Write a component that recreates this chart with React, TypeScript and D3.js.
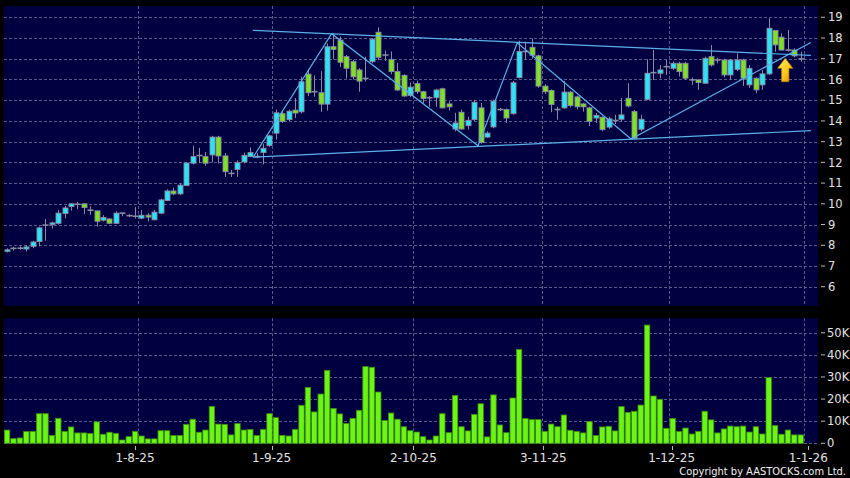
import React from "react";
import * as d3 from "d3";

// ---------- DATA ----------
const opens = [
  7.72, 7.85, 7.86, 7.82, 7.95, 8.18, 8.97, 9.0, 9.06, 9.53,
  9.87, 9.98, 10.0, 9.69, 9.66, 9.21, 9.27, 9.06, 9.55, 9.43,
  9.4, 9.31, 9.45, 9.23, 9.55, 10.16, 10.62, 10.48, 10.88, 11.96,
  12.33, 12.28, 12.36, 13.22, 12.31, 11.47, 11.66, 12.02, 12.28, 12.28,
  12.47, 12.81, 13.41, 14.35, 14.06, 14.52, 14.44, 16.26, 15.41, 15.36,
  14.81, 17.58, 17.9, 17.1, 16.86, 16.46, 16.05, 16.86, 18.28, 17.18,
  16.97, 16.38, 16.2, 15.23, 15.8, 15.41, 15.12, 15.12, 15.55, 14.82,
  13.61, 14.42, 13.77, 14.06, 14.63, 13.22, 13.71, 14.55, 14.55, 14.35,
  16.09, 17.35, 17.55, 17.14, 15.68, 15.47, 14.55, 14.63, 15.39, 15.16,
  14.82, 14.63, 14.14, 14.18, 13.7, 14.02, 14.08, 15.09, 14.45, 13.6,
  15.04, 16.33, 16.3, 16.62, 16.54, 16.78, 16.78, 15.98, 15.98, 15.82,
  17.1, 16.94, 16.94, 16.22, 16.49, 16.94, 15.74, 16.06, 15.74, 16.27,
  18.36, 18.04, 17.42, 17.42, 16.99,
];
const highs = [
  7.85, 7.93, 7.95, 8.0, 8.22, 8.9, 9.27, 9.14, 9.7, 9.9,
  10.03, 10.1, 10.0, 9.88, 9.66, 9.45, 9.3, 9.64, 9.58, 9.5,
  9.84, 9.7, 9.55, 9.7, 10.25, 10.7, 10.78, 11.0, 12.0, 12.8,
  12.7, 12.5, 13.28, 13.28, 12.45, 11.63, 12.1, 12.47, 12.72, 12.45,
  12.9, 13.33, 14.55, 14.5, 14.55, 15.1, 16.13, 16.5, 16.2, 16.4,
  17.74, 18.23, 18.07, 17.18, 16.95, 16.55, 17.1, 18.0, 18.52, 17.4,
  17.35, 16.8, 16.25, 15.85, 15.95, 15.45, 15.2, 15.55, 15.6, 14.95,
  14.39, 14.55, 14.2, 15.02, 14.87, 13.5, 15.03, 14.63, 14.6, 15.93,
  17.87, 17.82, 17.98, 17.2, 15.77, 15.52, 14.68, 15.93, 15.45, 15.22,
  14.87, 14.68, 14.38, 14.22, 14.2, 14.3, 15.1, 15.82, 14.53, 14.3,
  16.97, 17.42, 16.7, 16.94, 16.86, 16.86, 16.86, 16.1, 16.0, 17.1,
  17.66, 17.05, 17.0, 17.0, 17.26, 17.0, 16.7, 16.1, 16.45, 18.95,
  18.36, 18.23, 18.39, 17.5, 17.34,
];
const lows = [
  7.65, 7.75, 7.78, 7.7, 7.86, 7.95, 8.23, 8.8, 9.0, 9.3,
  9.67, 9.74, 9.5, 9.47, 8.9, 9.15, 9.03, 9.03, 9.4, 9.35,
  9.29, 9.26, 9.15, 9.2, 9.5, 10.13, 10.43, 10.43, 10.88, 11.9,
  11.96, 11.83, 12.0, 11.95, 11.3, 11.3, 11.3, 11.95, 12.25, 12.2,
  11.9, 12.75, 13.1, 13.9, 14.0, 14.14, 14.36, 15.2, 15.17, 14.44,
  14.5, 16.97, 16.6, 16.05, 16.0, 15.41, 15.9, 16.78, 16.94, 16.9,
  16.25, 15.45, 15.17, 15.15, 15.3, 14.85, 14.68, 14.68, 14.6, 14.5,
  13.5, 13.58, 13.58, 14.0, 12.9, 13.18, 13.65, 14.47, 13.9, 14.3,
  16.05, 16.95, 17.0, 15.6, 15.3, 14.42, 14.06, 14.58, 14.65, 14.55,
  14.45, 13.75, 13.9, 13.5, 13.62, 13.85, 13.97, 14.65, 13.13, 13.5,
  15.0, 15.98, 16.06, 16.22, 16.46, 16.14, 15.98, 15.74, 15.5, 15.8,
  16.62, 16.78, 16.1, 16.0, 16.4, 15.69, 15.6, 15.33, 15.5, 16.22,
  17.34, 17.39, 17.34, 17.07, 16.86,
];
const closes = [
  7.78, 7.85, 7.86, 7.92, 8.16, 8.84, 8.97, 9.08, 9.55, 9.8,
  10.0, 9.98, 9.82, 9.69, 9.16, 9.34, 9.06, 9.55, 9.55, 9.43,
  9.4, 9.45, 9.36, 9.6, 10.19, 10.62, 10.48, 10.9, 11.97, 12.28,
  12.33, 11.96, 13.22, 12.31, 11.55, 11.47, 11.98, 12.34, 12.47, 12.28,
  12.68, 13.28, 14.39, 13.98, 14.47, 14.38, 15.89, 15.36, 15.41, 14.81,
  17.58, 17.45, 16.83, 16.54, 16.13, 15.92, 16.05, 17.94, 17.07, 17.18,
  16.38, 15.49, 15.2, 15.63, 15.41, 15.08, 15.12, 15.49, 14.63, 14.68,
  13.9, 13.61, 14.03, 14.9, 12.96, 13.41, 14.95, 14.55, 14.14, 15.84,
  17.35, 17.35, 17.17, 15.68, 15.41, 14.79, 14.55, 15.39, 14.74, 14.68,
  14.68, 13.98, 14.27, 13.58, 14.1, 14.02, 14.29, 14.72, 13.16, 14.08,
  16.3, 16.33, 16.46, 16.62, 16.78, 16.38, 16.06, 15.98, 15.85, 17.02,
  16.7, 16.94, 16.22, 16.94, 16.94, 16.06, 16.54, 15.5, 16.27, 18.47,
  17.67, 17.42, 17.42, 17.14, 16.99,
];
// volume in thousands of shares
const volumesK = [
  6.0, 2.1, 2.4, 5.3, 5.4, 13.4, 13.4, 3.6, 11.3, 5.4,
  7.4, 4.7, 4.7, 4.4, 9.7, 4.1, 5.0, 4.5, 1.5, 3.0,
  5.4, 3.3, 2.0, 2.0, 5.7, 5.7, 3.5, 3.5, 8.6, 10.9,
  5.0, 6.0, 16.7, 8.7, 8.6, 3.8, 8.9, 6.0, 6.3, 3.5,
  6.3, 13.4, 11.6, 3.6, 3.3, 6.3, 17.2, 25.3, 14.2, 22.3,
  33.0, 15.8, 13.3, 9.0, 11.3, 14.9, 34.7, 34.4, 23.2, 10.3,
  13.7, 10.9, 7.5, 5.7, 5.1, 3.0, 1.5, 3.3, 13.4, 4.8,
  21.6, 7.5, 5.6, 13.0, 17.9, 2.9, 21.9, 8.3, 4.8, 20.5,
  42.5, 11.2, 10.7, 10.7, 5.4, 8.7, 7.5, 12.8, 5.9, 5.4,
  4.7, 9.8, 3.5, 7.4, 7.7, 5.6, 16.6, 14.0, 14.5, 17.3,
  53.5, 21.4, 19.9, 6.8, 11.2, 5.3, 6.9, 4.2, 5.4, 14.5,
  10.6, 4.7, 6.5, 7.8, 7.5, 7.8, 5.1, 7.5, 4.2, 29.7,
  8.0, 4.1, 6.0, 3.8, 3.8,
];

const xTickLabels = ["1-8-25", "1-9-25", "2-10-25", "3-11-25", "1-12-25", "1-1-26"];
const xTickIdx = [20, 41.35, 63.5, 83.8, 103.85, 125.2];
const xGridIdx = [20.5, 41.35, 63.5, 83.55, 103.5, 124.6];
const priceTicks = [6, 7, 8, 9, 10, 11, 12, 13, 14, 15, 16, 17, 18, 19];
const volTicksK = [0, 10, 20, 30, 40, 50];

// drawn trend lines (candle index, price)
const zigzagIdx = [38.48, 50.73, 73.6, 79.73, 97.5, 125.6];
const zigzagPrice = [12.26, 18.21, 12.8, 17.77, 13.13, 17.78];
const resistanceIdx = [38.4, 125.6];
const resistancePrice = [18.37, 17.16];
const supportIdx = [38.4, 125.6];
const supportPrice = [12.25, 13.53];
const arrowIdx = 121.6;
const arrowPrice = 17.02;

// ---------- LAYOUT ----------
const W = 850;
const H = 478;
const PL = 4;
const PR = 818;
const MT = 6;
const MB = 306;
const VT = 318.3;
const VB = 443.3;

const BG = "#000040";
const GRID = "#5a5a8c";
const TXT = "#e2e2e2";
const CYAN = "#2ae4f6";
const GREEN = "#7ee222";
const EDGE = "#8a8aa2";
const LINE = "#5cb0ea";
const FONT = "DejaVu Sans, Verdana, sans-serif";

export default function App() {
  const n = closes.length;
  const x = d3.scaleLinear().domain([0, n - 1]).range([7, 800.6]);
  const y = d3.scaleLinear().domain([5.07, 19.545]).range([MB, MT]);
  const yv = d3.scaleLinear().domain([0, 56.56]).range([VB, VT]);

  const lineGen = d3
    .line<[number, number]>()
    .x((d) => x(d[0]))
    .y((d) => y(d[1]));

  const zig: [number, number][] = zigzagIdx.map((v, i) => [v, zigzagPrice[i]]);
  const res: [number, number][] = resistanceIdx.map((v, i) => [v, resistancePrice[i]]);
  const sup: [number, number][] = supportIdx.map((v, i) => [v, supportPrice[i]]);

  const ax = x(arrowIdx);
  const ay = y(arrowPrice);
  const arrowPath = `M${ax},${ay} L${ax + 7.7},${ay + 10} L${ax + 3.7},${ay + 10} L${ax + 3.7},${ay + 23.4} L${ax - 3.7},${ay + 23.4} L${ax - 3.7},${ay + 10} L${ax - 7.7},${ay + 10} Z`;

  return (
    <svg
      width={W}
      height={H}
      style={{ position: "absolute", left: 0, top: 0, display: "block" }}
      fontFamily={FONT}
    >
      <defs>
        <linearGradient id="arrowGrad" x1="0" y1="0" x2="1" y2="1">
          <stop offset="0%" stopColor="#fff06a" />
          <stop offset="55%" stopColor="#ffc81e" />
          <stop offset="100%" stopColor="#d98a00" />
        </linearGradient>
        <clipPath id="mainClip">
          <rect x={PL} y={MT} width={PR - PL} height={MB - MT} />
        </clipPath>
      </defs>
      <rect x={0} y={0} width={W} height={H} fill="#000" />

      {/* main panel */}
      <rect x={PL} y={MT} width={PR - PL} height={MB - MT} fill={BG} />
      {priceTicks.map((p) => (
        <line
          key={"hg" + p}
          x1={PL}
          x2={PR}
          y1={Math.round(y(p)) + 0.5}
          y2={Math.round(y(p)) + 0.5}
          stroke={GRID}
          strokeDasharray="3,2"
        />
      ))}
      {xGridIdx.map((g, i) => (
        <line
          key={"vg" + i}
          x1={Math.round(x(g)) + 0.5}
          x2={Math.round(x(g)) + 0.5}
          y1={MT}
          y2={MB}
          stroke={GRID}
          strokeDasharray="3,2"
        />
      ))}

      {/* candles */}
      {closes.map((c, i) => {
        const o = opens[i];
        const cx = Math.round(x(i));
        const up = c > o;
        const doji = Math.abs(c - o) < 0.005;
        const top = y(Math.max(o, c));
        const bot = y(Math.min(o, c));
        return (
          <g key={"c" + i}>
            <line
              x1={cx + 0.5}
              x2={cx + 0.5}
              y1={y(highs[i])}
              y2={y(lows[i])}
              stroke={EDGE}
              strokeWidth={1}
            />
            {doji ? (
              <line
                x1={cx - 2.5}
                x2={cx + 3.5}
                y1={top}
                y2={top}
                stroke={EDGE}
                strokeWidth={1.6}
              />
            ) : (
              <rect
                x={cx - 2}
                y={top}
                width={5}
                height={Math.max(bot - top, 1.5)}
                fill={up ? CYAN : GREEN}
                stroke={EDGE}
                strokeWidth={0.9}
              />
            )}
          </g>
        );
      })}

      {/* trend lines */}
      <g clipPath="url(#mainClip)" fill="none" stroke={LINE} strokeWidth={1.2}>
        <path d={lineGen(res) || ""} />
        <path d={lineGen(sup) || ""} />
        <path d={lineGen(zig) || ""} />
      </g>
      <path d={arrowPath} fill="url(#arrowGrad)" stroke="#b87800" strokeWidth={0.6} />

      {/* main y axis */}
      {priceTicks.map((p) => (
        <g key={"yl" + p}>
          <line x1={821} x2={825} y1={y(p)} y2={y(p)} stroke="#bbbbbb" />
          <text x={828} y={y(p)} dy="0.36em" fill={TXT} fontSize={11.5}>
            {p}
          </text>
        </g>
      ))}

      {/* volume panel */}
      <rect x={PL} y={VT} width={PR - PL} height={VB - VT} fill={BG} />
      {volTicksK.map((v) => (
        <line
          key={"vh" + v}
          x1={PL}
          x2={PR}
          y1={Math.round(yv(v)) + 0.5}
          y2={Math.round(yv(v)) + 0.5}
          stroke={GRID}
          strokeDasharray="3,2"
        />
      ))}
      {xGridIdx.map((g, i) => (
        <line
          key={"vvg" + i}
          x1={Math.round(x(g)) + 0.5}
          x2={Math.round(x(g)) + 0.5}
          y1={VT}
          y2={VB}
          stroke={GRID}
          strokeDasharray="3,2"
        />
      ))}
      {volumesK.map((v, i) => (
        <rect
          key={"v" + i}
          x={x(i) - 2.6}
          y={yv(v)}
          width={5.4}
          height={VB - yv(v)}
          fill="#6cf514"
          stroke="#3b8f0c"
          strokeWidth={0.8}
        />
      ))}
      {volTicksK.map((v) => (
        <g key={"vl" + v}>
          <line x1={821} x2={825} y1={yv(v)} y2={yv(v)} stroke="#bbbbbb" />
          <text x={827} y={yv(v)} dy="0.36em" fill={TXT} fontSize={11.5}>
            {v === 0 ? "0" : v + "K"}
          </text>
        </g>
      ))}

      {/* x axis */}
      {xTickLabels.map((t, i) => (
        <g key={"xt" + t}>
          <line
            x1={Math.round(x(xTickIdx[i])) + 0.5}
            x2={Math.round(x(xTickIdx[i])) + 0.5}
            y1={446}
            y2={450}
            stroke="#bbbbbb"
          />
          <text x={x(xTickIdx[i])} y={462} textAnchor="middle" fill={TXT} fontSize={12}>
            {t}
          </text>
        </g>
      ))}

      <text x={846} y={475} textAnchor="end" fill="#f0f0f0" fontSize={11} fontFamily="DejaVu Sans Condensed, DejaVu Sans, sans-serif" fontStretch="condensed">
        Copyright by AASTOCKS.com Ltd.
      </text>
    </svg>
  );
}
